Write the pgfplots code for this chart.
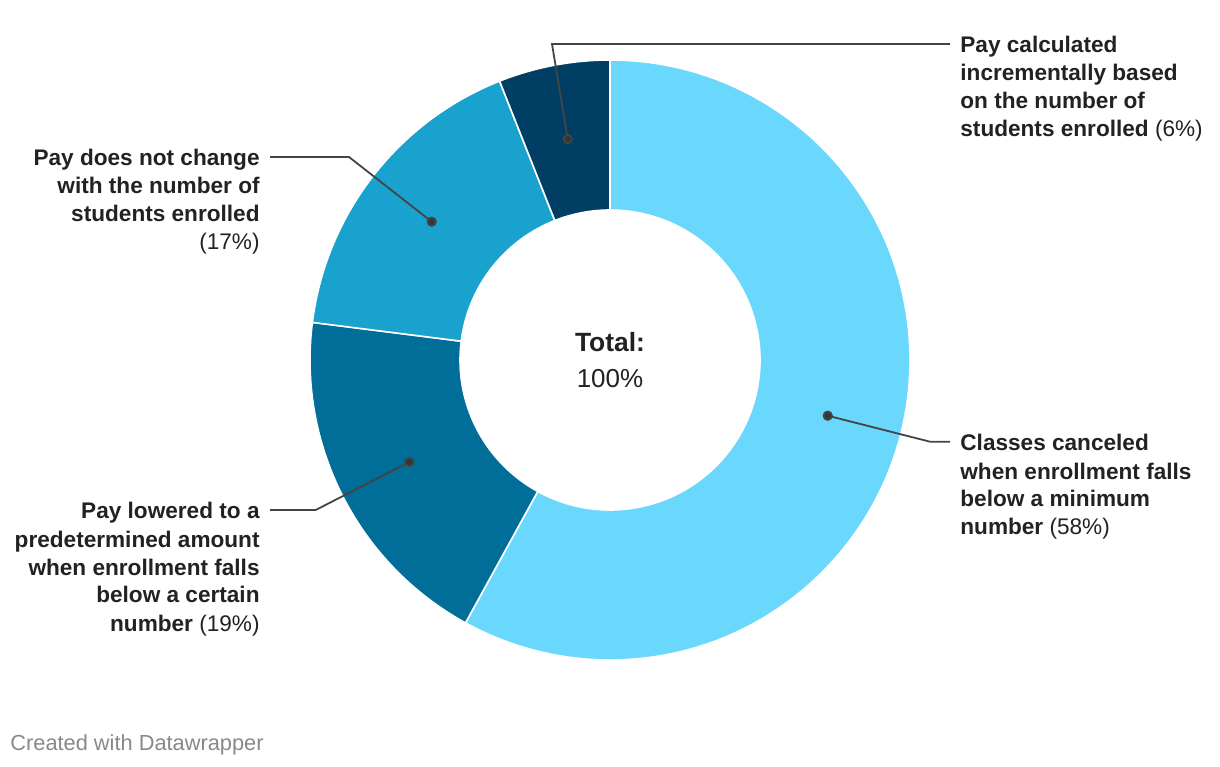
\documentclass[border=0pt]{standalone}
\usepackage{fontspec}
\setmainfont{Liberation Sans}
\usepackage{pgfplots}
\pgfplotsset{compat=1.18}

\definecolor{cA}{HTML}{6AD7FC}
\definecolor{cB}{HTML}{006E98}
\definecolor{cC}{HTML}{19A2CE}
\definecolor{cD}{HTML}{013E63}
\definecolor{txt}{HTML}{222222}
\definecolor{leader}{HTML}{444444}
\definecolor{foot}{HTML}{888888}

\tikzset{
  lab/.style={inner sep=0pt, text=txt, font=\fontsize{11.3}{14}\selectfont\bfseries},
}
\pgfplotsset{
  leaderline/.style={draw=leader, line width=0.9pt, mark=*, mark indices={1},
    mark size=2.1pt, mark options={fill=leader!80!black, draw=none}},
}

% wedge between cumulative percentages #1 and #2 (clockwise from top), 1 unit = 1px = 0.5pt
\newcommand{\donutwedge}[3]{%
  \fill[#3, draw=white, line width=0.8pt]
    (axis cs:{300*cos(90-3.6*#1)},{300*sin(90-3.6*#1)})
    arc[start angle={90-3.6*#1}, end angle={90-3.6*#2}, radius=150pt]
    -- (axis cs:{150*cos(90-3.6*#2)},{150*sin(90-3.6*#2)})
    arc[start angle={90-3.6*#2}, end angle={90-3.6*#1}, radius=75pt]
    -- cycle;}

\begin{document}
\begin{tikzpicture}
\begin{axis}[
    x=0.5pt, y=0.5pt,
    xmin=-610, xmax=610, ymin=-406, ymax=360,
    hide axis, clip=false,
  ]
  \path (axis cs:-610,-406) rectangle (axis cs:610,360);

  % shares: 58, 19, 17, 6
  \donutwedge{0}{58}{cA}
  \donutwedge{58}{77}{cB}
  \donutwedge{77}{94}{cC}
  \donutwedge{94}{100}{cD}

  % leader lines (dot first)
  \addplot[leaderline] coordinates {(-42.3,221) (-58,316) (340,316)};
  \addplot[leaderline] coordinates {(-178.3,138.3) (-261,203) (-340,203)};
  \addplot[leaderline] coordinates {(-200.7,-102) (-294.3,-150) (-340,-150)};
  \addplot[leaderline] coordinates {(217.7,-55.7) (320,-81.7) (340,-81.7)};

  % base anchor = baseline of the last line
  \node[lab, anchor=base west, align=left] at (axis cs:350,223)
    {Pay calculated\\incrementally based\\on the number of\\students enrolled \mdseries(6\%)};
  \node[lab, anchor=base east, align=right] at (axis cs:-350,110)
    {Pay does not change\\with the number of\\students enrolled\\\mdseries(17\%)};
  \node[lab, anchor=base east, align=right] at (axis cs:-350,-271)
    {Pay lowered to a\\predetermined amount\\when enrollment falls\\below a certain\\number \mdseries(19\%)};
  \node[lab, anchor=base west, align=left] at (axis cs:350,-175)
    {Classes canceled\\when enrollment falls\\below a minimum\\number \mdseries(58\%)};

  \node[lab, anchor=base, font=\fontsize{13.2}{16}\selectfont\bfseries] at (axis cs:0,8) {Total:};
  \node[lab, anchor=base, font=\fontsize{13}{16}\selectfont\mdseries] at (axis cs:0,-28) {100\%};

  \node[inner sep=0pt, anchor=base west, text=foot, font=\fontsize{10.9}{13}\selectfont]
    at (axis cs:-600,-390) {Created with Datawrapper};
\end{axis}
\end{tikzpicture}
\end{document}
